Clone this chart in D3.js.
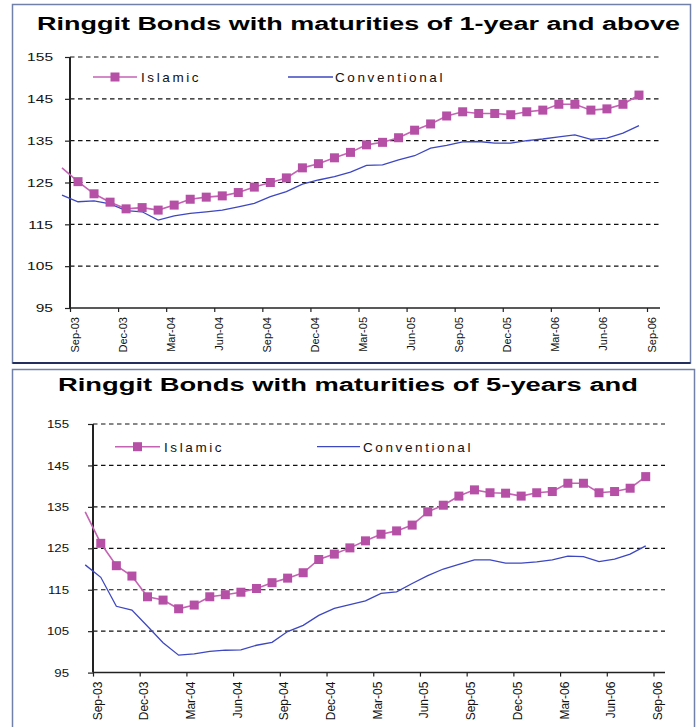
<!DOCTYPE html>
<html><head><meta charset="utf-8">
<script src="https://cdn.jsdelivr.net/npm/d3@7"></script>
<style>
body{margin:0;background:#fff;}
svg{display:block;font-family:"Liberation Sans",Arial,sans-serif;}
</style></head><body>
<svg id="c" width="699" height="727"></svg>
<script>
// ---- DATA ----
const months = ["Aug-03","Sep-03","Oct-03","Nov-03","Dec-03","Jan-04","Feb-04","Mar-04","Apr-04","May-04","Jun-04","Jul-04","Aug-04","Sep-04","Oct-04","Nov-04","Dec-04","Jan-05","Feb-05","Mar-05","Apr-05","May-05","Jun-05","Jul-05","Aug-05","Sep-05","Oct-05","Nov-05","Dec-05","Jan-06","Feb-06","Mar-06","Apr-06","May-06","Jun-06","Jul-06","Aug-06"];
const tickLabels = ["Sep-03","Dec-03","Mar-04","Jun-04","Sep-04","Dec-04","Mar-05","Jun-05","Sep-05","Dec-05","Mar-06","Jun-06","Sep-06"];
const yTicks = [95,105,115,125,135,145,155];
const seriesNames = ["Islamic","Conventional"];
const titles = ["Ringgit Bonds with maturities of 1-year and above","Ringgit Bonds with maturities of 5-years and"];

const islamic1 = [128.5,125.2,122.3,120.3,118.7,119.0,118.4,119.6,121.0,121.5,121.8,122.6,123.9,125.0,126.1,128.5,129.5,130.9,132.2,134.0,134.6,135.7,137.5,139.0,140.9,141.9,141.5,141.5,141.2,141.9,142.3,143.7,143.7,142.3,142.6,143.7,145.9];
const conventional1 = [122.0,120.4,120.6,119.9,118.3,118.0,116.0,117.0,117.6,118.0,118.4,119.2,120.0,121.6,122.8,124.6,125.6,126.4,127.5,129.1,129.2,130.4,131.4,133.2,133.9,134.7,134.8,134.4,134.4,135.0,135.4,135.9,136.4,135.3,135.6,136.8,138.6];
const islamic2 = [133.8,126.2,120.8,118.3,113.3,112.5,110.4,111.3,113.3,113.8,114.4,115.3,116.7,117.8,119.1,122.3,123.6,125.1,126.8,128.4,129.2,130.6,133.8,135.4,137.6,139.1,138.4,138.3,137.6,138.4,138.7,140.7,140.7,138.4,138.7,139.5,142.3];
const conventional2 = [121.0,118.0,111.0,110.1,106.2,102.2,99.2,99.5,100.1,100.4,100.5,101.6,102.3,104.9,106.4,108.8,110.5,111.4,112.3,114.1,114.5,116.5,118.4,120.0,121.1,122.2,122.2,121.4,121.4,121.7,122.2,123.1,123.0,121.8,122.4,123.6,125.6];

// ---- LAYOUT ----
const panels = [
  {box:{x:12.5,y:4.5,w:678,h:358.5,bottomEdge:true}, left:70, xEnd:647, right:660, top:57, bottom:308,
   title:{x:37,y:30,len:643,text:titles[0]}, legendY:77, isl:[93,137], islText:141, conv:[288,333], convText:335,
   yLabelGap:17, yStretch:1.35, xFont:11, isl_data:islamic1, conv_data:conventional1},
  {box:{x:12.5,y:369.5,w:682,h:370,bottomEdge:false}, left:93, xEnd:653.5, right:665, top:424, bottom:672.6,
   title:{x:58,y:391,len:580,text:titles[1]}, legendY:446.7, isl:[115,160], islText:164, conv:[317,360], convText:363,
   yLabelGap:24, yStretch:1.15, xFont:12, isl_data:islamic2, conv_data:conventional2}
];

const svg = d3.select("#c");
const ISL = "#b64fa6", ISL_LINE="#c463b4", CONV = "#3d47c2";

panels.forEach(p => {
  const g = svg.append("g");
  g.append("rect").attr("x",p.box.x).attr("y",p.box.y).attr("width",p.box.w).attr("height",p.box.h)
    .attr("fill","#fff").attr("stroke","#7080a8").attr("stroke-width",1.5);
  if (p.box.bottomEdge) {
    g.append("line").attr("x1",p.box.x).attr("x2",p.box.x+p.box.w).attr("y1",p.box.y+p.box.h).attr("y2",p.box.y+p.box.h)
      .attr("stroke","#23305e").attr("stroke-width",2);
  }
  g.append("text").attr("x",p.title.x).attr("y",p.title.y).text(p.title.text)
    .attr("font-size",18).attr("font-weight","bold").attr("fill","#000")
    .attr("textLength",p.title.len).attr("lengthAdjust","spacingAndGlyphs");

  const x = d3.scaleLinear().domain([0,36]).range([p.left,p.xEnd]);
  const y = d3.scaleLinear().domain([95,155]).range([p.bottom,p.top]);

  g.append("g").selectAll("line").data(yTicks.filter(v=>v!==95)).join("line")
    .attr("x1",p.left).attr("x2",p.right).attr("y1",d=>y(d)).attr("y2",d=>y(d))
    .attr("stroke","#111").attr("stroke-width",1.2).attr("stroke-dasharray","4.5,3.5");

  const ya = g.append("g").attr("transform",`translate(${p.left},0)`)
    .call(d3.axisLeft(y).tickValues(yTicks).tickSize(5).tickSizeOuter(0).tickPadding(p.yLabelGap-5));
  ya.select(".domain").remove();
  ya.selectAll(".tick line").attr("stroke","#222").attr("stroke-width",1.2);
  ya.selectAll(".tick text").attr("font-size",11.5).attr("fill","#111").attr("font-family","Liberation Sans, Arial, sans-serif")
    .each(function(){ const w=this.getComputedTextLength(); d3.select(this).attr("textLength",w*p.yStretch).attr("lengthAdjust","spacingAndGlyphs"); });
  g.append("line").attr("x1",p.left).attr("x2",p.left).attr("y1",p.top).attr("y2",p.bottom)
    .attr("stroke","#222").attr("stroke-width",2);

  const xa = g.append("g").attr("transform",`translate(0,${p.bottom})`)
    .call(d3.axisBottom(x).tickValues(d3.range(0,37,3)).tickFormat((d,i)=>tickLabels[i]).tickSize(4).tickSizeOuter(0));
  xa.select(".domain").remove();
  xa.selectAll(".tick line").attr("stroke","#222").attr("stroke-width",1.2);
  xa.selectAll(".tick text").attr("font-size",p.xFont).attr("fill","#111").attr("font-family","Liberation Sans, Arial, sans-serif")
    .attr("transform","rotate(-90)").attr("text-anchor","end").attr("x",-9).attr("y",8).attr("dy",null);
  g.append("line").attr("x1",p.left).attr("x2",p.right).attr("y1",p.bottom).attr("y2",p.bottom)
    .attr("stroke","#222").attr("stroke-width",1.5);

  const line = d3.line().x((d,j)=>x(j-0.5)).y(d=>y(d));
  g.append("path").datum(p.conv_data).attr("d",line).attr("fill","none").attr("stroke",CONV).attr("stroke-width",1.3);
  g.append("path").datum(p.isl_data).attr("d",line).attr("fill","none").attr("stroke",ISL_LINE).attr("stroke-width",1.6);
  g.append("g").selectAll("rect").data(p.isl_data.map((v,j)=>({v,j})).filter(d=>d.j>0)).join("rect")
    .attr("x",d=>x(d.j-0.5)-4.5).attr("y",d=>y(d.v)-4.5).attr("width",9).attr("height",9).attr("fill",ISL);

  const ly = p.legendY;
  g.append("line").attr("x1",p.isl[0]).attr("x2",p.isl[1]).attr("y1",ly).attr("y2",ly).attr("stroke",ISL_LINE).attr("stroke-width",1.6);
  g.append("rect").attr("x",(p.isl[0]+p.isl[1])/2-4.5).attr("y",ly-4.5).attr("width",9).attr("height",9).attr("fill",ISL);
  g.append("text").attr("x",p.islText).attr("y",ly+5).text(seriesNames[0]).attr("font-size",13.5).attr("letter-spacing",2.6).attr("fill","#111");
  g.append("line").attr("x1",p.conv[0]).attr("x2",p.conv[1]).attr("y1",ly).attr("y2",ly).attr("stroke",CONV).attr("stroke-width",1.3);
  g.append("text").attr("x",p.convText).attr("y",ly+5).text(seriesNames[1]).attr("font-size",13.5).attr("letter-spacing",2.6).attr("fill","#111");
});
</script>
</body></html>
